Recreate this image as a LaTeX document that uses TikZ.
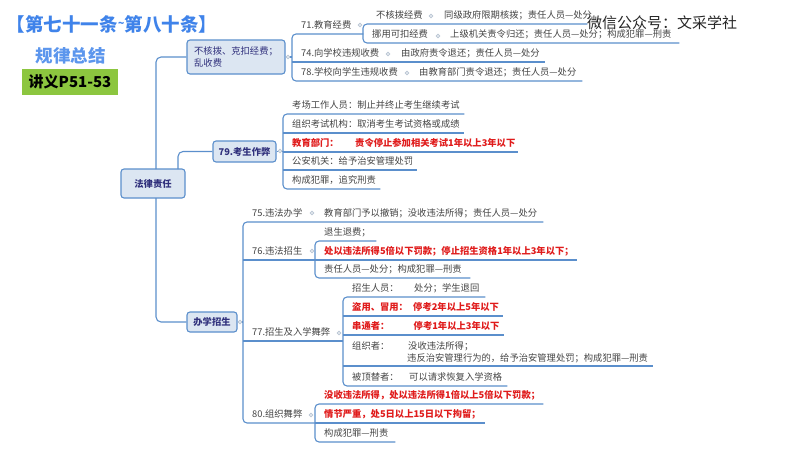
\documentclass[tikz,border=0pt]{standalone}
\usepackage{fontspec}
\setmainfont{Noto Sans CJK SC}
\usepackage{tikz}
\definecolor{linkblue}{HTML}{5B8FCC}
\definecolor{boxfill}{HTML}{DCE6F2}
\definecolor{titleblue}{HTML}{3F83EA}
\definecolor{rowgrey}{HTML}{444444}
\definecolor{rowred}{HTML}{E01B1B}
\definecolor{padgreen}{HTML}{8CC63F}
\definecolor{knobgrey}{HTML}{B9C5D3}
\tikzset{
  branch/.style={draw=linkblue,line width=1.1pt,rounded corners=4pt},
  topic/.style={draw=linkblue,line width=1.1pt,fill=boxfill,rounded corners=3pt,text=rowgrey!70!blue,align=left,font=\fontsize{9.3}{12.5}\selectfont},
  boldtopic/.style={topic,align=center,font=\fontsize{9.3}{11}\selectfont\bfseries},
  leaf/.style={anchor=south west,inner xsep=9pt,inner ysep=3.6pt,text width=#1pt-18pt,align=left,text height=7pt,text depth=2pt,text=rowgrey,font=\fontsize{9.3}{11}\selectfont},
  redleaf/.style={leaf=#1,text=rowred,font=\fontsize{9.3}{11}\selectfont\bfseries},
  txt/.style={anchor=base west,inner sep=0pt,text=rowgrey,font=\fontsize{9.3}{11}\selectfont},
  redtxt/.style={txt,text=rowred,font=\fontsize{9.3}{11}\selectfont\bfseries},
  knob/.style={draw=knobgrey,line width=0.8pt,fill=white}
}
\begin{document}
\begin{tikzpicture}[x=1pt,y=-1pt]
  \useasboundingbox[fill=white] (0,0) rectangle (800,450);

  \node[text=titleblue,font=\fontsize{18.5}{20}\selectfont\bfseries] (title) at (112,24) {【第七十一条\raisebox{4pt}{\fontsize{11}{11}\selectfont\textasciitilde}第八十条】};
  \node[text=titleblue!85,font=\fontsize{17.5}{20}\selectfont\bfseries] (rule) at (70.5,56) {规律总结};
  \node[fill=padgreen,minimum width=96,minimum height=26,font=\fontsize{15}{18}\selectfont\bfseries] (notes) at (70,82) {讲义P51-53};
  \node[font=\fontsize{15}{18}\selectfont,text=black!85] (mark) at (662,23) {微信公众号：文采学社};

  \node[boldtopic,minimum width=64,minimum height=29] (root) at (153,183.5) {法律责任};
  \node[topic,minimum width=98,minimum height=34] (fee) at (236,57) {不核拨、克扣经费；\\乱收费};
  \node[boldtopic,minimum width=63,minimum height=21] (cheat) at (244.5,151.5) {79.考生作弊};
  \node[boldtopic,minimum width=50,minimum height=20] (school) at (212,322) {办学招生};

  \coordinate (rootup) at (156,169);
  \coordinate (rootup2) at (178,169);
  \coordinate (rootdown) at (156,198);
  \draw[branch,rounded corners=5pt] (rootup) |- (fee.west);
  \draw[branch,rounded corners=5pt] (rootup2) |- (cheat.west);
  \draw[branch,rounded corners=5pt] (rootdown) |- (school.west);

  % fee branch
  \node[leaf=71] (r71) at (292,34) {71.教育经费};
  \node[leaf=253] (r74) at (292,62) {74.向学校违规收费};
  \node[leaf=290] (r78) at (292,81) {78.学校向学生违规收费};
  \node[leaf=224] (r71a) at (363,24) {\hspace*{4pt}不核拨经费};
  \node[leaf=316] (r71b) at (363,43) {挪用可扣经费};
  \node[txt] (r71ax) at (r71a.base -| 444,0) {同级政府限期核拨；责任人员—处分};
  \node[txt] (r71bx) at (r71b.base -| 450,0) {上级机关责令归还；责任人员—处分；构成犯罪—刑责};
  \node[txt] (r74x) at (r74.base -| 401,0) {由政府责令退还；责任人员—处分};
  \node[txt] (r78x) at (r78.base -| 419,0) {由教育部门责令退还；责任人员—处分};
  \draw[branch] (fee.east) -- (r71.south west |- fee.east);
  \draw[branch] (r71.south east) -- (r71.south west) -- (r78.south west) -- (r78.south east);
  \draw[branch] (r74.south west) -- (r74.south east);
  \draw[branch] (r71a.south east) -- (r71a.south west) -- (r71b.south west) -- (r71b.south east);

  % cheat branch
  \node[leaf=181] (c1) at (283,114) {考场工作人员：制止并终止考生继续考试};
  \node[leaf=181] (c2) at (283,133) {组织考试机构：取消考生考试资格或成绩};
  \node[redleaf=235] (c3) at (283,152) {教育部门：};
  \node[leaf=134] (c4) at (283,170) {公安机关：给予治安管理处罚};
  \node[leaf=97] (c5) at (283,189) {构成犯罪，追究刑责};
  \node[redtxt] (c3x) at (c3.base -| 355,0) {责令停止参加相关考试1年以上3年以下};
  \draw[branch] (cheat.east) -- (c1.south west |- cheat.east);
  \draw[branch] (c1.south east) -- (c1.south west) -- (c5.south west) -- (c5.south east);
  \foreach \n in {c2,c3,c4}
    \draw[branch] (\n.south west) -- (\n.south east);

  % school branch
  \node[leaf=300] (s75) at (243,222) {75.违法办学};
  \node[leaf=334] (s76) at (243,260) {76.违法招生};
  \node[leaf=100] (s77) at (243,341) {77.招生及入学舞弊};
  \node[leaf=72] (s80) at (243,423) {80.组织舞弊};
  \node[txt] (s75x) at (s75.base -| 324,0) {教育部门予以撤销；没收违法所得；责任人员—处分};
  \draw[branch] (school.east) -- (s75.south west |- school.east);
  \draw[branch] (s75.south east) -- (s75.south west) -- (s80.south west) -- (s80.south east);
  \foreach \n in {s76,s77}
    \draw[branch] (\n.south west) -- (\n.south east);

  \node[leaf=61] (a1) at (315,241) {退生退费；};
  \node[redleaf=262] (a2) at (315,260) {\mbox{处以违法所得5倍以下罚款；停止招生资格1年以上3年以下；}};
  \node[leaf=155] (a3) at (315,278) {\mbox{责任人员—处分；构成犯罪—刑责}};
  \draw[branch] (a1.south east) -- (a1.south west) -- (a3.south west) -- (a3.south east);

  \node[leaf=142] (b1) at (343,297) {招生人员：};
  \node[redleaf=160] (b2) at (343,316) {盗用、冒用：};
  \node[redleaf=161] (b3) at (343,335) {串通者：};
  \node[leaf=310] (b4) at (343,366) {};
  \node[leaf=164] (b5) at (343,386) {被顶替者：};
  \node[txt] (b1x) at (b1.base -| 414,0) {处分；学生退回};
  \node[redtxt] (b2x) at (b2.base -| 413,0) {停考2年以上5年以下};
  \node[redtxt] (b3x) at (b3.base -| 413.5,0) {停考1年以上3年以下};
  \node[txt] (b4t) at (352,349.5) {组织者：};
  \node[txt] (b4x) at (408,349.5) {没收违法所得；};
  \node[txt] (b4y) at (407,361.5) {违反治安管理行为的，给予治安管理处罚；构成犯罪—刑责};
  \node[txt] (b5x) at (b5.base -| 409,0) {可以请求恢复入学资格};
  \draw[branch] (b1.south east) -- (b1.south west) -- (b5.south west) -- (b5.south east);
  \foreach \n in {b2,b3,b4}
    \draw[branch] (\n.south west) -- (\n.south east);

  \node[redleaf=228] (d1) at (315,404) {\mbox{没收违法所得，处以违法所得1倍以上5倍以下罚款；}};
  \node[redleaf=170] (d2) at (315,423) {情节严重，处5日以上15日以下拘留；};
  \node[leaf=80] (d3) at (315,442) {\mbox{构成犯罪—刑责}};
  \draw[branch] (d1.south east) -- (d1.south west) -- (d3.south west) -- (d3.south east);
  \draw[branch] (d2.south west) -- (d2.south east);

  \foreach \x/\y in {288/57,280/151,240/322,360/25,431/16,438/36,388/54,407/73,312/213,312/251,339/333,311/415}
    \draw[knob] (\x,\y) circle (1.8);
\end{tikzpicture}
\end{document}
